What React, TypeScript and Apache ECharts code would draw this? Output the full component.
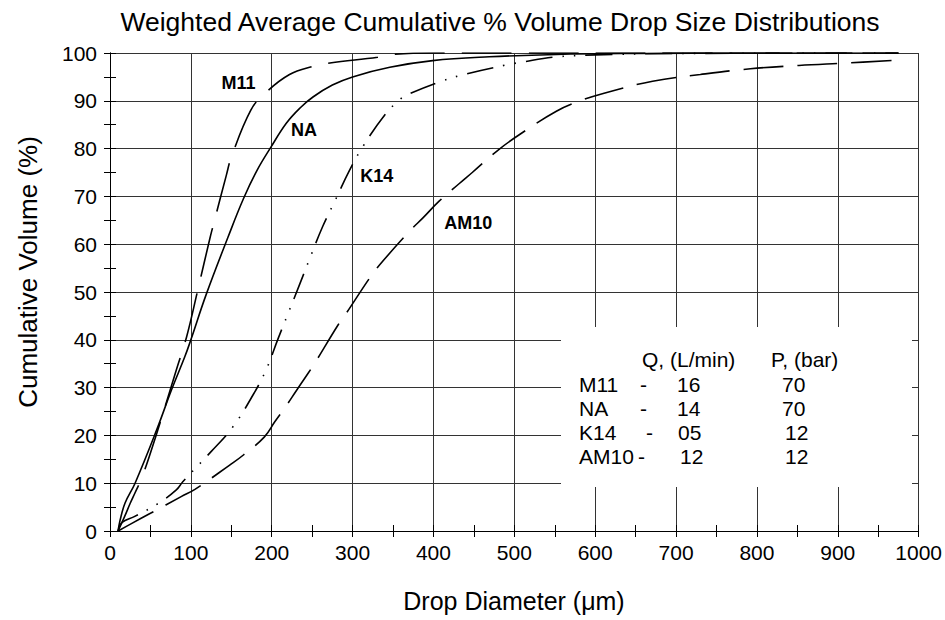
import React, { useEffect, useRef } from "react";
import * as echarts from "echarts";

const FONT = "'Liberation Sans', Arial, Helvetica, sans-serif";

const TITLE = "Weighted Average Cumulative % Volume Drop Size Distributions";
const X_NAME = "Drop Diameter (\u03bcm)";
const Y_NAME = "Cumulative Volume (%)";

// Drop diameter (um) and cumulative volume (%)
const M11_D = [10, 18, 25, 31, 40, 57, 82, 94.7, 108, 123.5, 128.8, 144, 150, 174, 192, 222, 251, 272, 331, 350, 400, 500, 700, 975];
const M11_V = [0, 3, 5.8, 8, 11.4, 20, 33.7, 40.6, 50, 61.2, 64.7, 74.5, 78.2, 88, 91.6, 95.5, 97.2, 97.9, 99.1, 99.7, 100, 100, 100, 100];

const NA_D = [10, 12, 18.5, 31, 57.6, 76, 92.6, 100, 119, 146, 165, 182, 199, 218, 235, 251, 275, 300, 346, 399, 469, 552, 650, 800, 975];
const NA_V = [0, 1.9, 5.8, 10, 21.1, 29.5, 36.5, 40, 49.5, 61.5, 69.5, 75.5, 80.3, 85.3, 88.5, 90.8, 93.3, 95, 97, 98.4, 99.2, 99.7, 99.9, 100, 100];

const K14_D = [10, 15, 30, 60, 82, 90, 125, 152, 177, 193, 208, 220, 235, 247, 263, 278, 296, 313, 340, 358, 368, 410, 440, 490, 510, 547, 600, 700, 975];
const K14_V = [0, 1.8, 3, 5.8, 8.6, 10.3, 16.6, 21.8, 28.5, 33.7, 40.3, 45.4, 51.8, 57, 63.7, 69, 75.4, 80.5, 87.1, 90.2, 91.3, 94.1, 95.6, 97.5, 98.1, 99.1, 99.6, 99.9, 100];

const AM10_D = [10, 27, 50, 88, 105, 148, 165, 191, 204, 216, 231, 245, 255, 282, 292, 321, 333, 372, 387, 407, 432, 448, 480, 507, 552, 580, 611, 671, 730, 792, 852, 910, 975];
const AM10_V = [0, 1.6, 3.7, 7.2, 8.7, 13.8, 15.9, 19.7, 22.9, 25.7, 29.5, 33, 35.6, 43.1, 45.5, 52.9, 55.6, 63, 65.5, 69, 72.7, 75, 79.7, 83, 87.8, 89.9, 91.6, 94.1, 95.5, 96.7, 97.4, 97.9, 98.5];

const CURVE_LABELS = ["M11", "NA", "K14", "AM10"];
const LABEL_D = [159, 240, 330, 443];
const LABEL_V = [93.8, 83.9, 74.3, 64.4];

const TABLE_HEAD = ["Q, (L/min)", "P, (bar)"];
const TABLE_NAMES = ["M11", "NA", "K14", "AM10"];
const TABLE_Q = ["16", "14", "05", "12"];
const TABLE_P = ["70", "70", "12", "12"];

const DASHES: any[] = [[50, 17], "solid", [27, 10, 1.5, 10, 1.5, 10], [40, 14]];

function pairs(d: number[], v: number[]) {
  return d.map((x, i) => [x, v[i]]);
}

export default function App() {
  const ref = useRef<HTMLDivElement>(null);

  useEffect(() => {
    document.body.style.margin = "0";
    const chart = echarts.init(ref.current!, null, { renderer: "svg" });

    const axisCommon = {
      type: "value",
      axisLine: { show: true, lineStyle: { color: "#000", width: 1 } },
      axisTick: { show: true, inside: true, length: 6, lineStyle: { color: "#000", width: 1 } },
      minorTick: { show: true, splitNumber: 2, length: 6, lineStyle: { color: "#000", width: 1 } },
    };

    const curves = [
      pairs(M11_D, M11_V),
      pairs(NA_D, NA_V),
      pairs(K14_D, K14_V),
      pairs(AM10_D, AM10_V),
    ];

    const tableTexts: any[] = [];
    const headY = 359;
    const rowY0 = 384;
    const rowStep = 24.2;
    const txt = (text: string, x: number, y: number) => ({
      type: "text",
      z: 11,
      style: { text, x, y, fill: "#000", fontSize: 21, fontFamily: FONT, align: "left", verticalAlign: "middle" },
    });
    tableTexts.push(txt(TABLE_HEAD[0], 642, headY));
    tableTexts.push(txt(TABLE_HEAD[1], 771, headY));
    TABLE_NAMES.forEach((n, i) => {
      const y = rowY0 + i * rowStep;
      const dashX = [640, 640, 646, 638][i];
      const qX = [677, 677, 678, 680][i];
      const pX = [782, 782, 785, 785][i];
      tableTexts.push(txt(n, 579, y));
      tableTexts.push(txt("-", dashX, y));
      tableTexts.push(txt(TABLE_Q[i], qX, y));
      tableTexts.push(txt(TABLE_P[i], pX, y));
    });

    chart.setOption({
      animation: false,
      backgroundColor: "#fff",
      grid: { left: 110, right: 25, top: 53, bottom: 89, containLabel: false },
      xAxis: [
        {
          ...axisCommon,
          position: "bottom",
          min: 0,
          max: 1000,
          interval: 100,
          splitLine: { show: true, lineStyle: { color: "#333", width: 1 } },
          axisLabel: { show: true, fontSize: 21, color: "#000", margin: 11, fontFamily: FONT, formatter: (v: number) => String(v) },
        },
        {
          ...axisCommon,
          position: "top",
          min: 0,
          max: 1000,
          interval: 100,
          splitLine: { show: false },
          axisLabel: { show: false },
        },
      ],
      yAxis: [
        {
          ...axisCommon,
          position: "left",
          min: 0,
          max: 100,
          interval: 10,
          splitLine: { show: true, lineStyle: { color: "#333", width: 1 } },
          axisLabel: { show: true, fontSize: 21, color: "#000", margin: 13, fontFamily: FONT, formatter: (v: number) => String(v) },
        },
        {
          ...axisCommon,
          position: "right",
          min: 0,
          max: 100,
          interval: 10,
          splitLine: { show: false },
          axisLabel: { show: false },
        },
      ],
      series: [
        ...curves.map((data, i) => ({
          type: "line",
          name: CURVE_LABELS[i],
          data,
          xAxisIndex: 0,
          yAxisIndex: 0,
          symbol: "none",
          showSymbol: false,
          smooth: 0.4,
          lineStyle: { color: "#000", width: 1.6, type: DASHES[i] },
          z: 3,
        })),
        {
          type: "scatter",
          data: LABEL_D.map((d, i) => [d, LABEL_V[i], CURVE_LABELS[i]]),
          symbol: "circle",
          symbolSize: 0,
          itemStyle: { color: "#000" },
          label: {
            show: true,
            position: "inside",
            formatter: (p: any) => p.value[2],
            fontWeight: "bold",
            fontSize: 18,
            color: "#000",
            opacity: 1,
            textBorderWidth: 0,
            fontFamily: FONT,
          },
          z: 4,
        },
      ],
      graphic: [
        { type: "rect", z: 10, shape: { x: 561, y: 327, width: 351, height: 160 }, style: { fill: "#fff" } },
        ...tableTexts,
        { type: "text", z: 11, style: { text: TITLE, x: 500, y: 22, fill: "#000", fontSize: 26.5, fontFamily: FONT, align: "center", verticalAlign: "middle" } },
        { type: "text", z: 11, style: { text: X_NAME, x: 514, y: 601, fill: "#000", fontSize: 25, fontFamily: FONT, align: "center", verticalAlign: "middle" } },
        { type: "text", z: 11, x: 28, y: 272, rotation: Math.PI / 2, style: { text: Y_NAME, x: 0, y: 0, fill: "#000", fontSize: 26, fontFamily: FONT, align: "center", verticalAlign: "middle" } },
      ],
    });

    return () => chart.dispose();
  }, []);

  return <div ref={ref} style={{ width: 945, height: 620 }} />;
}
